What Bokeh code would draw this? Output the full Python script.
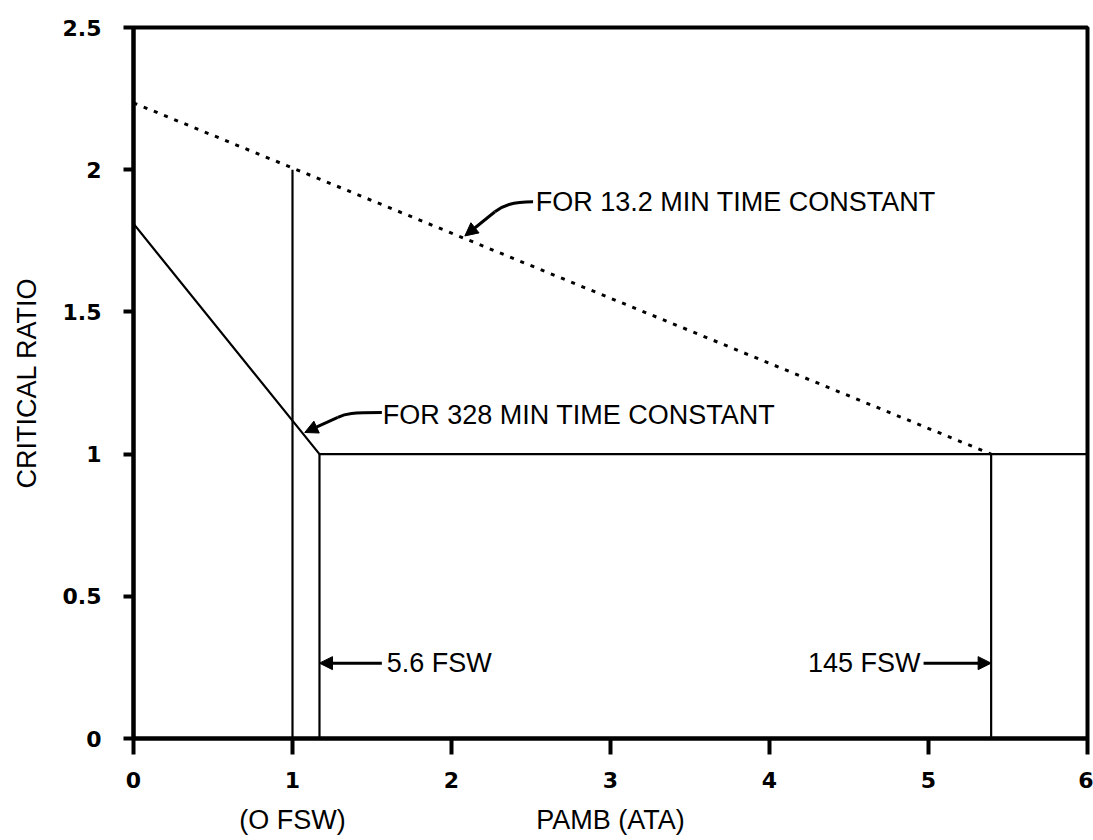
from bokeh.plotting import figure
from bokeh.models import Range1d, FixedTicker, Arrow, NormalHead, ColumnDataSource, LinearAxis
from bokeh.core.properties import value
from bokeh.embed import file_html
from bokeh.resources import INLINE

# ---- data -------------------------------------------------------------
FSW_PER_ATM = 33.0          # feet of sea water per atmosphere
surface_ata = 1.0           # 0 FSW
shallow_fsw = 5.6           # depth where the 328 min curve reaches ratio 1
deep_fsw = 145.0            # depth where the 13.2 min curve reaches ratio 1

shallow_ata = surface_ata + shallow_fsw / FSW_PER_ATM
deep_ata = surface_ata + deep_fsw / FSW_PER_ATM

# critical ratio vs ambient pressure, 13.2 min time constant (dotted)
tc13_x = [0.0, deep_ata]
tc13_y = [2.235, 1.0]

# critical ratio vs ambient pressure, 328 min time constant (solid)
tc328_x = [0.0, shallow_ata, 6.0]
tc328_y = [1.81, 1.0, 1.0]

# vertical depth markers
marker_x = [surface_ata, shallow_ata, deep_ata]
marker_top = [2.0, 1.0, 1.0]

x_ticks = [0, 1, 2, 3, 4, 5, 6]
y_ticks = [0, 0.5, 1, 1.5, 2, 2.5]
y_tick_labels = ["0", "0.5", "1", "1.5", "2", "2.5"]

x_title = "PAMB (ATA)"
surface_title = "(O FSW)"

# ---- figure -----------------------------------------------------------
p = figure(frame_width=954, frame_height=711,
           min_border_left=133, min_border_right=6,
           min_border_top=27, min_border_bottom=102,
           x_range=Range1d(0, 6), y_range=Range1d(0, 2.5),
           output_backend="svg", toolbar_location=None,
           background_fill_color="white", border_fill_color="white")

p.grid.visible = False
p.outline_line_color = "black"
p.outline_line_width = 4

tick_font = "DejaVu Sans"
text_font = "Liberation Sans"
text_size = "27px"

for ax in (p.xaxis[0], p.yaxis[0]):
    ax.axis_line_width = 4
    ax.axis_line_color = "black"
    ax.major_tick_line_width = 4
    ax.major_tick_line_color = "black"
    ax.major_tick_in = 0
    ax.minor_tick_line_color = None
    ax.major_label_text_font = tick_font
    ax.major_label_text_font_style = "bold"
    ax.major_label_text_font_size = "22px"
    ax.major_label_text_color = "black"
    ax.axis_label_text_font = text_font
    ax.axis_label_text_font_style = "normal"
    ax.axis_label_text_font_size = text_size
    ax.axis_label_text_color = "black"

p.xaxis.ticker = FixedTicker(ticks=x_ticks)
p.xaxis.major_tick_out = 16
p.xaxis.major_label_standoff = 17

p.yaxis.ticker = FixedTicker(ticks=y_ticks)
p.yaxis.major_label_overrides = {
    (int(t) if float(t).is_integer() else t): lab for t, lab in zip(y_ticks, y_tick_labels)
}
p.yaxis.major_tick_out = 10
p.yaxis.major_label_standoff = 22
p.yaxis.axis_label = "CRITICAL RATIO"
p.yaxis.axis_label_standoff = 18

# second line under the x axis: surface marker and axis title
title_axis = LinearAxis(ticker=FixedTicker(ticks=[surface_ata, 3]),
                        major_label_overrides={1: surface_title, 3: x_title},
                        axis_line_color=None, major_tick_line_color=None,
                        minor_tick_line_color=None, major_tick_out=0,
                        major_tick_in=0, major_label_standoff=14,
                        major_label_text_font=text_font,
                        major_label_text_font_style="normal",
                        major_label_text_font_size=text_size,
                        major_label_text_color="black")
p.add_layout(title_axis, "below")

# ---- curves -----------------------------------------------------------
p.line(tc13_x, tc13_y, line_color="black", line_width=3, line_dash="4 7")
p.line(tc328_x, tc328_y, line_color="black", line_width=2.2)
p.segment(x0=marker_x, y0=[0] * len(marker_x), x1=marker_x, y1=marker_top,
          line_color="black", line_width=2.2)

# ---- annotations ------------------------------------------------------
notes = ColumnDataSource(dict(
    x=[2.53, 1.568, 1.593, 4.95],
    y=[1.887, 1.139, 0.265, 0.265],
    text=["FOR 13.2 MIN TIME CONSTANT", "FOR 328 MIN TIME CONSTANT",
          "5.6 FSW", "145 FSW"],
    align=["left", "left", "left", "right"],
))
p.text(x="x", y="y", text="text", source=notes, text_align="align",
       text_baseline="middle", text_font=value(text_font),
       text_font_style="normal", text_font_size=text_size, text_color="black")

# curved leaders toward the two curves
p.bezier(x0=[2.513, 1.562], y0=[1.887, 1.146],
         x1=[2.273, 1.285], y1=[1.852, 1.129],
         cx0=[2.380, 1.373], cy0=[1.887, 1.146],
         cx1=[2.324, 1.335], cy1=[1.874, 1.143],
         line_color="black", line_width=3)

head = dict(size=13, fill_color="black", line_color="black", line_width=1)
leaders = [
    (2.273, 1.852, 2.084, 1.767),
    (1.285, 1.129, 1.077, 1.076),
    (1.562, 0.265, shallow_ata, 0.265),
    (4.969, 0.265, deep_ata, 0.265),
]
for xs, ys, xe, ye in leaders:
    p.add_layout(Arrow(x_start=xs, y_start=ys, x_end=xe, y_end=ye,
                       line_color="black", line_width=3,
                       end=NormalHead(**head)))

open("out.html", "w").write(file_html(p, INLINE))
